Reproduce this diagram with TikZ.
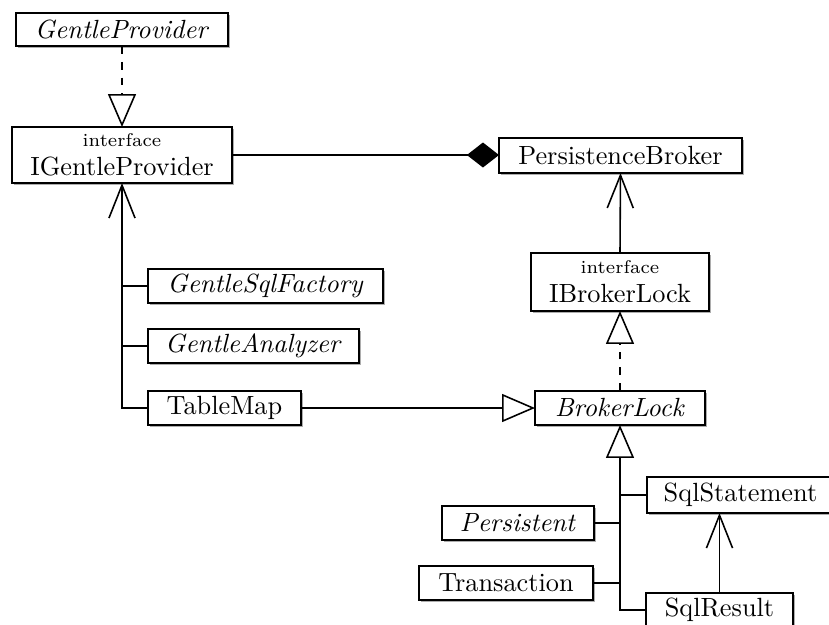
\documentclass[tikz,border=0pt]{standalone}
\usetikzlibrary{arrows.meta,shadows}
\newdimen\pxu
\pxu=0.38pt
\begin{document}
\begin{tikzpicture}[x=0.38pt,y=-0.38pt,
  line width=0.6pt,
  cls/.style={draw, fill=white, inner sep=0pt, outer sep=0pt,
    drop shadow={shadow xshift=0.7pt, shadow yshift=-0.7pt, fill=black!40, opacity=0.8}},
  iface/.style={cls, align=center},
  realize/.style={dashed, -{Triangle[open, length=12.5pt, width=10.6pt]}},
  inherit/.style={-{Triangle[open, length=12.5pt, width=10.6pt]}},
  navig/.style={-{Straight Barb[length=12.5pt, width=9.9pt]}},
  compos/.style={-{Diamond[length=12.2pt, width=9.5pt]}}]
\useasboundingbox (0,0) rectangle (829,624);

% classes and interfaces
\node[cls, minimum width=212\pxu, minimum height=33\pxu] (gp) at (122,29.5) {\textit{GentleProvider}};
\node[iface, minimum width=220\pxu, minimum height=56\pxu] (igp) at (122,155) {{\scriptsize interface}\\[-1pt]IGentleProvider};
\node[cls, minimum width=243\pxu, minimum height=35\pxu] (pb) at (620.5,155.5) {PersistenceBroker};
\node[iface, minimum width=178\pxu, minimum height=58\pxu] (ibl) at (620,282) {{\scriptsize interface}\\[-1pt]IBrokerLock};
\node[cls, minimum width=235\pxu, minimum height=34\pxu] (gsf) at (265.5,286) {\textit{GentleSqlFactory}};
\node[cls, minimum width=211\pxu, minimum height=34\pxu] (ga) at (253.5,346) {\textit{GentleAnalyzer}};
\node[cls, minimum width=153\pxu, minimum height=34\pxu] (tm) at (224.5,408) {TableMap};
\node[cls, minimum width=170\pxu, minimum height=34\pxu] (bl) at (620,408) {\textit{BrokerLock}};
\node[cls, minimum width=187\pxu, minimum height=36\pxu] (ss) at (740.5,495) {SqlStatement};
\node[cls, minimum width=152\pxu, minimum height=34\pxu] (pe) at (518,523) {\textit{Persistent}};
\node[cls, minimum width=174\pxu, minimum height=34\pxu] (tr) at (506,583) {Transaction};
\node[cls, minimum width=147\pxu, minimum height=34\pxu] (sr) at (719.5,610) {SqlResult};

% relations
\draw[realize] (gp.south) -- (igp.north);
\draw[compos] (igp.east) -- (igp.east -| pb.west);
\draw[navig] (ibl.north) -- (pb.south);
\draw[navig] (tm.west) -| (igp.south);
\draw (gsf.west) -- (gsf.west -| igp.south);
\draw (ga.west) -- (ga.west -| igp.south);
\draw[inherit] (tm.east) -- (bl.west);
\draw[realize] (bl.north) -- (ibl.south);
\draw[inherit] (sr.west) -| (bl.south);
\draw (ss.west) -- (ss.west -| bl.south);
\draw (pe.east) -- (pe.east -| bl.south);
\draw (tr.east) -- (tr.east -| bl.south);
\draw[navig] (sr.north) -- (sr.north |- ss.south);
\end{tikzpicture}
\end{document}
